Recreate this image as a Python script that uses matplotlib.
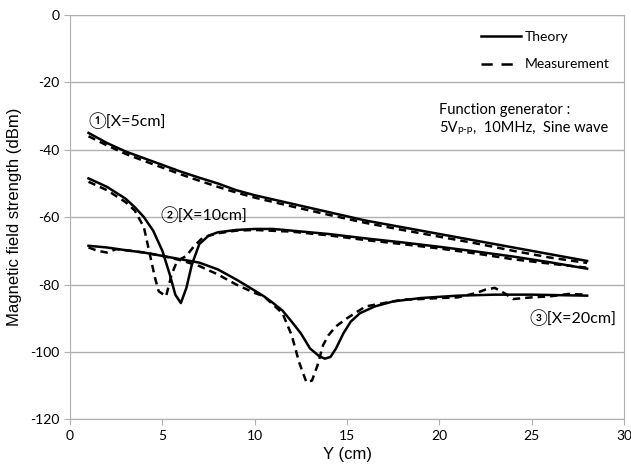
import matplotlib
matplotlib.use("Agg")
import matplotlib.pyplot as plt
from matplotlib.lines import Line2D

plt.rcParams['axes.unicode_minus'] = False

# curve 1: X = 5cm
x1 = [1, 2, 3, 4, 5, 6, 7, 8, 9, 10, 12, 14, 16, 18, 20, 22, 24, 26, 28]
theory1 = [-35, -38, -40.5, -42.5, -44.5, -46.5, -48.3, -50, -52, -53.5,
           -56, -58.5, -61, -63, -65, -67, -69, -71, -73]
meas1 = [-36, -38.7, -41.2, -43.3, -45.3, -47.3, -49.2, -51, -52.7, -54.2,
         -56.8, -59.3, -61.7, -63.8, -65.8, -67.8, -70, -72, -73.6]

# curve 2: X = 10cm
x2_t = [1, 2, 3, 3.5, 4, 4.5, 5, 5.4, 5.7, 6, 6.3, 6.6, 7, 7.5, 8, 9, 10,
        11, 12, 14, 16, 18, 20, 22, 24, 26, 28]
theory2 = [-48.5, -51, -54.5, -57, -60, -64, -70, -77, -83, -85.5, -81, -74,
           -68, -65.5, -64.5, -63.8, -63.5, -63.5, -64, -65, -66.3, -67.5,
           -68.8, -70.2, -71.7, -73.4, -75.3]
x2_m = [1, 2, 3, 3.5, 4, 4.3, 4.6, 4.8, 5.2, 5.5, 5.8, 6.3, 6.7, 7.2, 8, 9,
        10, 12, 14, 16, 18, 20, 22, 24, 26, 28]
meas2 = [-49.5, -52, -55.5, -58, -63, -70.5, -78, -82, -83.5, -77, -73,
         -71.5, -68.7, -66, -64.8, -64, -63.8, -64.3, -65.4, -66.8, -68,
         -69.3, -70.8, -72.5, -73.8, -75]

# curve 3: X = 20cm
x3_t = [1, 2, 3, 4, 5, 6, 7, 8, 9, 10, 10.5, 11, 11.5, 12, 12.5, 13, 13.5,
        13.8, 14.1, 14.4, 14.8, 15.2, 15.7, 16.5, 17.5, 19, 21, 23, 25, 28]
theory3 = [-68.5, -69, -69.8, -70.5, -71.5, -72.5, -73.5, -75.5, -78.5, -81.8,
           -83.5, -85.5, -87.7, -91, -94.5, -99, -101.3, -102, -101.5, -99,
           -94.5, -91, -88.5, -86.5, -85, -84, -83.3, -83, -83, -83.3]
x3_m = [1, 1.5, 2, 2.5, 3, 4, 5, 6, 7, 8, 9, 10, 10.5, 11, 11.5, 12, 12.4,
        12.8, 13.1, 13.4, 13.7, 14, 14.4, 15, 16, 17, 18, 19, 20, 21, 22,
        22.5, 23, 23.5, 24, 25, 26, 27, 28]
meas3 = [-69, -70, -70.5, -69.5, -69.8, -70.5, -71.5, -72.8, -74.5, -77, -80,
         -82.5, -83.5, -86, -88.5, -95, -103, -109, -108.5, -104, -98, -95,
         -92.4, -90, -86.5, -85.5, -84.5, -84.3, -84, -83.8, -82.5, -81.5,
         -81, -82.5, -84.3, -83.8, -83.5, -82.8, -83]

font = ['Lato', 'Noto Sans CJK JP', 'DejaVu Sans']
font_circ = ['Lato', 'DejaVu Sans', 'Noto Sans CJK JP']

fig = plt.figure(figsize=(6.31, 4.68), dpi=100)
ax = fig.add_axes([0.111, 0.104, 0.878, 0.864])

lw = 1.8
dash = (3, 2)
ax.plot(x1, theory1, color='black', lw=lw)
ax.plot(x1, meas1, color='black', lw=lw, ls=(0, dash))
ax.plot(x2_t, theory2, color='black', lw=lw)
ax.plot(x2_m, meas2, color='black', lw=lw, ls=(0, dash))
ax.plot(x3_t, theory3, color='black', lw=lw)
ax.plot(x3_m, meas3, color='black', lw=lw, ls=(0, dash))

ax.set_xlim(0, 30)
ax.set_ylim(-120, 0)
ax.set_xticks(range(0, 31, 5))
ax.set_yticks(range(-120, 1, 20))
ax.yaxis.grid(True, color='#b0b0b0', lw=1)
ax.set_axisbelow(True)
for s in ax.spines.values():
    s.set_color('#b0b0b0')
ax.tick_params(colors='#b0b0b0', labelcolor='black', length=4, labelsize=10)
for lab in ax.get_xticklabels() + ax.get_yticklabels():
    lab.set_family(font)

ax.set_xlabel('Y (cm)', fontsize=12, family='Liberation Sans', labelpad=4)
ax.set_ylabel('Magnetic field strength (dBm)', fontsize=12,
              family='Liberation Sans', labelpad=6)

ax.text(0.98, -31.5, '①[X=5cm]', fontsize=11.5, family=font_circ, va='center')
ax.text(4.9, -59.2, '②[X=10cm]', fontsize=11.5, family=font_circ, va='center')
ax.text(24.85, -89.8, '③[X=20cm]', fontsize=11.5, family=font_circ, va='center')

# function generator note
ax.text(19.97, -28.3, 'Function generator :', fontsize=10.5, family=font,
        va='center')
t1 = ax.text(19.97, -33.6, '5V', fontsize=10.5, family=font, va='center')
t2 = ax.annotate('p-p', xy=(1, 0.05), xycoords=t1, fontsize=7.5, family=font,
                 va='bottom', ha='left')
ax.annotate(',  10MHz,  Sine wave', xy=(1, 0), xycoords=(t2, t1),
            fontsize=10.5, family=font, va='bottom', ha='left')

handles = [Line2D([], [], color='black', lw=lw),
           Line2D([], [], color='black', lw=lw, ls=(0, (4.5, 3.5)))]
leg = ax.legend(handles, ['Theory', 'Measurement'], loc='upper left',
                bbox_to_anchor=(0.741, 0.96), frameon=False, handlelength=2.9,
                handletextpad=0.3, labelspacing=1.1, borderpad=0,
                borderaxespad=0, prop={'family': font, 'size': 10})

fig.savefig('out.png', dpi=100)
